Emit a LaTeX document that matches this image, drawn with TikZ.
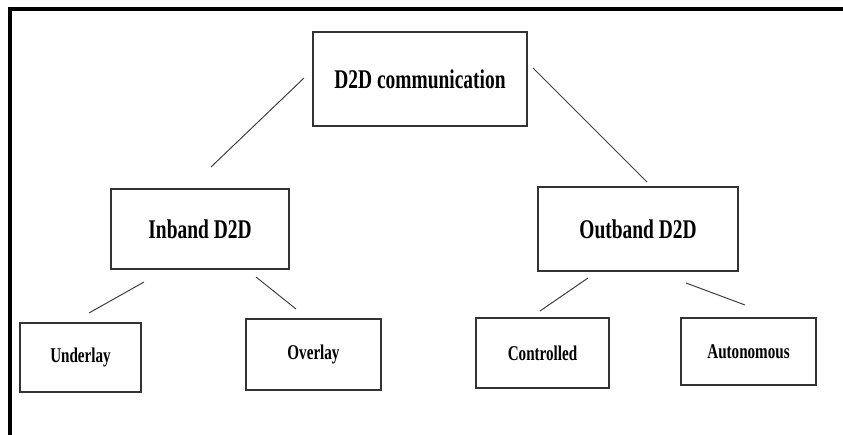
\documentclass[tikz,border=0pt]{standalone}
\usepackage{fontspec}
\setmainfont{Liberation Serif}
\usepackage{graphicx}
\newcommand{\narrowtxt}[1]{\scalebox{0.72}[1]{#1}}
\tikzset{
  box/.style={draw=black!80,line width=1.3pt,inner sep=0pt,fill=white},
  bigbox/.style={box,font=\fontsize{27}{30}\selectfont\bfseries},
  smallbox/.style={box,font=\fontsize{21}{24}\selectfont\bfseries},
  link/.style={draw=black!75,line width=1pt}
}
\begin{document}
\begin{tikzpicture}[x=1pt,y=-1pt]
	    \useasboundingbox (0,0) rectangle (843,435);
	    \draw[line width=3.5pt] (10,435)--(10,9)--(845,9);
	    % boxes
	    \node[bigbox,minimum width=214pt,minimum height=94pt] (root) at (420,79) {\narrowtxt{D2D communication}};
	    \node[bigbox,minimum width=178pt,minimum height=80pt] (inband) at (200,229) {\narrowtxt{Inband D2D}};
	    \node[bigbox,minimum width=200pt,minimum height=84pt] (outband) at (638,229) {\narrowtxt{Outband D2D}};
	    \node[smallbox,minimum width=121pt,minimum height=69pt] (underlay) at (80.5,357.5) {\narrowtxt{Underlay}};
	    \node[smallbox,minimum width=135pt,minimum height=71pt] (overlay) at (313.5,354.5) {\narrowtxt{Overlay}};
	    \node[smallbox,minimum width=133pt,minimum height=70pt] (controlled) at (542.5,353) {\narrowtxt{Controlled}};
	    \node[smallbox,minimum width=135pt,minimum height=67pt] (autonomous) at (748.5,351.5) {\narrowtxt{Autonomous}};
	    % line ends
	    \coordinate (rootL) at (304,78);
	    \coordinate (inbandT) at (211,167);
	    \coordinate (rootR) at (533,68);
	    \coordinate (outbandT) at (647,182);
	    \coordinate (inbandL) at (144,282);
	    \coordinate (underlayT) at (89,313);
	    \coordinate (inbandR) at (256,277);
	    \coordinate (overlayT) at (296,309);
	    \coordinate (outbandL) at (588,278);
	    \coordinate (controlledT) at (540,311);
	    \coordinate (outbandR) at (686,283);
	    \coordinate (autonomousT) at (745,305);
	    \draw[link] (rootL)--(inbandT);
	    \draw[link] (rootR)--(outbandT);
	    \draw[link] (inbandL)--(underlayT);
	    \draw[link] (inbandR)--(overlayT);
	    \draw[link] (outbandL)--(controlledT);
	    \draw[link] (outbandR)--(autonomousT);
	\end{tikzpicture}
\end{document}
